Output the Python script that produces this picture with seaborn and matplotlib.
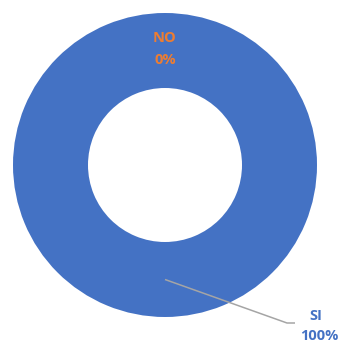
import numpy as np
import matplotlib
matplotlib.use("Agg")
import matplotlib.pyplot as plt
import seaborn as sns

# Survey answers and their shares
labels = ["SI", "NO"]
shares = [1.0, 0.0]
colors = ["#4472C4", "#ED7D31"]

sns.set_theme(style="white")
plt.rcParams["font.family"] = ["Open Sans", "DejaVu Sans"]

W, H = 343, 342
fig = plt.figure(figsize=(W / 100, H / 100), dpi=100)
ax = fig.add_axes([0, 0, 1, 1])

cx, cy = 165, H - 165
r_out, ring = 152, 75

ax.pie(
    shares, colors=colors, startangle=90, counterclock=False,
    radius=r_out, center=(cx, cy), frame=True,
    wedgeprops=dict(width=ring, linewidth=0),
)
ax.set_xlim(0, W)
ax.set_ylim(0, H)
ax.set_aspect("equal")
ax.axis("off")

font = dict(ha="center", va="center", fontsize=10.5, fontweight="bold")
r_mid = r_out - ring / 2
start = 90.0
for lab, val, col in zip(labels, shares, colors):
    mid = np.deg2rad(start - 360 * val / 2)
    start -= 360 * val
    ax_x = cx + r_mid * np.cos(mid)
    ax_y = cy + r_mid * np.sin(mid)
    pct = f"{val:.0%}"
    if val > 0:
        # label sits outside the ring with a leader line
        ax.plot([ax_x, 287, 295], [ax_y, H - 323, H - 323],
                color="#A5A5A5", lw=1.1, solid_capstyle="butt")
        ax.text(316, H - 316, lab, color=col, **font)
        ax.text(319, H - 336, pct, color=col, **font)
    else:
        ax.text(ax_x, ax_y + 13, lab, color=col, **font)
        ax.text(ax_x, ax_y - 10, pct, color=col, **font)

fig.savefig("out.png", dpi=100, facecolor="white")
